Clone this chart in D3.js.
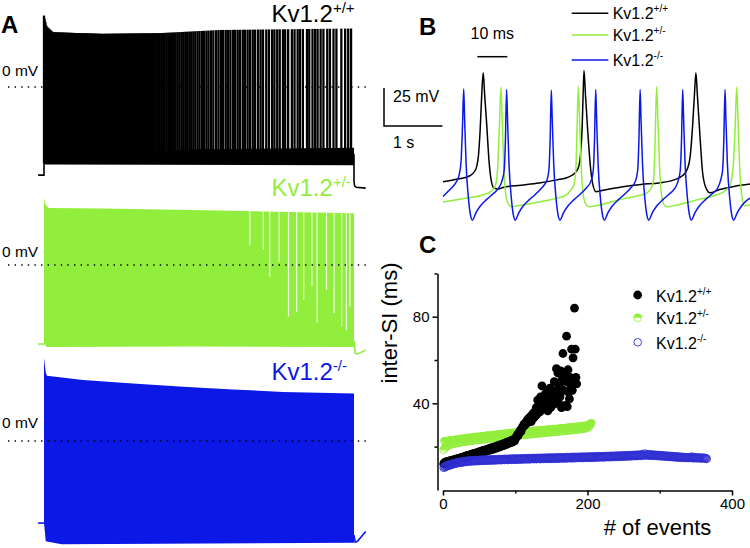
<!DOCTYPE html>
<html><head><meta charset="utf-8">
<script src="https://cdn.jsdelivr.net/npm/d3@7"></script>
<style>
body{margin:0;background:#fff;}
svg{display:block;font-family:"Liberation Sans",Arial,Helvetica,sans-serif;}
</style></head><body>
<svg id="chart" width="750" height="548"></svg>
<script>
// ---------------- DATA ----------------
const genoBase = "Kv1.2";
const genoSup = ["+/+", "+/-", "-/-"];
const stimDurationS = 5.3;

// Panel C: inter-spike intervals (ms) per event
const isiWT = [
12.0,12.6,12.2,12.9,12.5,13.1,12.7,13.3,12.9,13.5,
13.1,13.6,13.2,13.8,13.4,14.0,13.6,14.2,13.8,14.4,
14.0,14.6,14.2,14.8,14.4,15.0,14.6,15.2,14.8,15.4,
15.0,15.7,15.2,15.9,15.4,16.1,15.6,16.3,15.8,16.5,
16.0,16.7,16.2,16.9,16.4,17.1,16.6,17.3,16.8,17.5,
17.0,17.8,17.2,18.0,17.4,18.2,17.6,18.4,17.8,18.6,
18.0,18.8,18.2,19.0,18.4,19.3,18.6,19.5,18.8,19.7,
19.0,19.9,19.3,20.1,19.5,20.4,19.7,20.6,20.0,20.9,
20.2,21.1,20.5,21.4,20.7,21.6,21.0,21.9,21.2,22.2,
21.5,22.4,21.8,22.7,22.0,23.0,22.3,23.3,22.6,23.6,
24.0,24.8,25.5,25.1,26.2,26.8,27.5,27.0,28.3,28.9,
29.5,30.3,29.8,31.0,30.5,31.8,32.5,31.2,33.0,32.0,
33.8,31.5,34.5,32.8,35.5,33.5,36.0,34.2,38.0,35.0,
41.5,37.0,39.5,36.0,43.0,38.5,48.0,40.0,42.0,37.5,
44.0,39.0,41.0,45.0,36.5,43.0,40.5,47.0,38.0,44.5,
42.0,46.0,39.5,50.0,44.0,41.0,56.0,45.5,54.0,40.0,
48.0,43.0,55.0,38.0,51.0,63.0,46.0,53.0,39.0,50.0,
71.0,38.5,55.5,45.0,42.0,52.0,48.0,65.0,46.0,61.0,
50.0,84.0,65.0,52.0,49.0];

const isiHet = [
18.5,22.5,19.5,21.8,20.0,22.6,20.4,22.0,20.8,22.9,
21.0,22.4,21.2,23.0,21.3,22.6,21.5,23.2,21.6,22.8,
21.8,23.4,21.9,23.0,22.0,23.6,22.1,23.2,22.2,23.8,
22.3,23.4,22.4,24.0,22.5,23.6,22.6,24.1,22.7,23.8,
22.8,24.3,22.9,23.9,23.0,24.5,23.0,24.1,23.1,24.6,
23.2,24.3,23.3,24.8,23.3,24.4,23.4,24.9,23.5,24.6,
23.6,25.1,23.6,24.7,23.7,25.2,23.8,24.9,23.9,25.4,
23.9,25.0,24.0,25.5,24.1,25.2,24.2,25.7,24.2,25.3,
24.3,25.8,24.4,25.4,24.5,26.0,24.5,25.6,24.6,26.1,
24.7,25.7,24.8,26.3,24.8,25.9,24.9,26.4,25.0,26.0,
25.0,26.5,25.1,26.1,25.2,26.7,25.2,26.2,25.3,26.8,
25.4,26.3,25.4,26.9,25.5,26.5,25.6,27.0,25.6,26.6,
25.7,27.1,25.8,26.7,25.8,27.3,25.9,26.8,26.0,27.4,
26.0,26.9,26.1,27.5,26.2,27.0,26.2,27.6,26.3,27.2,
26.4,27.7,26.4,27.3,26.5,27.9,26.6,27.4,26.6,28.0,
26.7,27.5,26.8,28.1,26.8,27.7,26.9,28.2,27.0,27.8,
27.0,28.4,27.1,27.9,27.2,28.5,27.2,28.0,27.3,28.6,
27.4,28.2,27.4,28.8,27.5,28.3,27.6,28.9,27.6,28.4,
27.7,29.0,27.8,28.6,27.9,29.2,27.9,28.7,28.0,29.3,
28.1,28.9,28.2,29.5,28.3,29.1,28.4,29.7,28.6,29.5,
29.0,30.0,29.5,30.4,30.8];

const isiKO = [
10.2,10.8,10.5,11.1,10.9,11.4,11.0,11.6,11.3,11.8,
11.5,12.0,11.7,12.2,11.9,12.4,12.1,12.6,12.2,12.7,
12.4,12.9,12.5,13.0,12.6,13.1,12.7,13.2,12.8,13.3,
12.9,13.4,13.0,13.5,13.1,13.6,13.1,13.5,13.2,13.7,
13.2,13.8,13.3,13.6,13.2,13.9,13.4,13.7,13.3,13.9,
13.4,13.8,13.5,14.0,13.4,13.9,13.5,14.0,13.6,13.9,
13.5,14.1,13.6,13.9,13.5,14.1,13.7,14.0,13.6,14.2,
13.7,14.0,13.6,14.2,13.8,14.1,13.7,14.3,13.8,14.1,
13.7,14.3,13.9,14.2,13.8,14.4,13.9,14.2,13.8,14.4,
13.9,14.3,14.0,14.5,13.9,14.3,14.0,14.5,14.0,14.4,
13.9,14.5,14.1,14.4,14.0,14.6,14.1,14.4,14.0,14.6,
14.1,14.5,14.2,14.7,14.1,14.5,14.2,14.7,14.1,14.6,
14.2,14.7,14.3,14.6,14.2,14.8,14.3,14.6,14.2,14.8,
14.3,14.7,14.3,14.8,14.2,14.7,14.4,14.9,14.3,14.7,
14.4,14.9,14.3,14.8,14.4,15.0,14.4,14.8,14.3,14.9,
14.4,15.0,14.5,14.8,14.4,15.0,14.5,14.9,14.4,15.1,
14.5,14.9,14.6,15.1,14.5,15.0,14.6,15.1,14.5,15.0,
14.6,15.2,14.6,15.0,14.7,15.2,14.6,15.1,14.7,15.3,
14.6,15.1,14.7,15.3,14.7,15.1,14.8,15.3,14.7,15.2,
14.8,15.4,14.7,15.2,14.8,15.4,14.9,15.2,14.8,15.4,
14.9,15.3,14.9,15.5,14.8,15.3,15.0,15.5,14.9,15.3,
15.0,15.6,14.9,15.4,15.0,15.6,15.1,15.4,15.0,15.6,
15.1,15.5,15.0,15.7,15.1,15.5,15.2,15.7,15.1,15.5,
15.2,15.8,15.1,15.6,15.3,15.8,15.2,15.6,15.3,15.9,
15.2,15.7,15.4,15.9,15.3,15.7,15.4,16.0,15.3,15.8,
15.5,16.0,15.4,15.8,15.5,16.1,15.5,15.9,15.6,16.1,
15.5,16.0,15.7,16.2,15.6,16.0,15.7,16.3,15.6,16.1,
15.8,16.3,15.7,16.1,15.9,16.6,15.8,16.2,16.0,16.8,
15.9,16.3,16.0,16.5,15.8,16.2,16.0,16.4,15.7,16.2,
15.9,16.3,15.7,16.1,15.8,16.2,15.6,16.0,15.7,16.1,
15.5,16.0,15.6,15.9,15.4,15.9,15.5,15.8,15.3,15.8,
15.4,15.7,15.2,15.7,15.3,15.6,15.1,15.6,15.2,15.5,
15.0,15.5,15.1,15.4,14.9,15.4,15.0,15.3,14.8,15.3,
14.9,15.2,14.8,15.2,14.9,15.1,14.7,15.1,14.8,15.0,
14.7,15.1,14.8,15.4,14.7,15.0,14.6,15.2,14.7,14.9,
14.6,15.0,14.7,14.9,14.5,15.0,14.6,14.8,14.5,14.9,
14.6,14.8,14.5,14.7,14.3];

const cXTicks = [0, 200, 400];
const cXMinorTicks = [100, 300];
const cYTicks = [40, 80];
const cYMinorTicks = [20, 60, 100];

// Panel A envelopes: [time s, mV]
const wtPeakEnv = [[0,47],[0.04,40],[0.15,36],[1,35],[2,35.5],[3,37.5],[5.3,38.5]];
const wtBandTop = [[0,-44],[1.5,-44],[2.5,-41],[5.3,-40]];
const wtBandBottom = [[0,-51],[5.3,-51.5]];
const wtPre = [[-0.1,-58],[0,-58],[0,-50]];
const wtPost = [[5.3,-44],[5.3,-62],[5.31,-65],[5.34,-66],[5.5,-66.5]];

const hetTop = [[0,44.7],[0.02,40],[0.08,37.5],[1,37.2],[2,36.5],[3,35.8],[4,35],[5.3,34]];
const hetBottom = [[0,-52],[0.05,-54],[2.5,-53.7],[5.3,-54]];
const hetPre = [[-0.1,-52],[0,-52]];
const hetPost = [[5.3,-50],[5.32,-58],[5.36,-58.5],[5.5,-56]];
const hetFailures = [[3.52,13],[3.75,10],[3.86,-7.7],[4.02,2],[4.18,-34],[4.32,-31],[4.44,-23],[4.58,-14],[4.67,-38],[4.83,-16.4],[4.96,-31.6],[5.09,-40.5],[5.17,-42.8],[5.23,-27.4]];

const koTop = [[0,54.6],[0.03,45],[0.05,43],[0.67,40.1],[1.52,37.9],[2.38,35.7],[3.23,33.9],[4.09,32.3],[5.3,31.2]];
const koBottom = [[0,-54],[0.03,-66],[0.3,-68],[5.3,-67]];
const koPre = [[-0.1,-54],[0,-54]];
const koPost = [[5.3,-62],[5.32,-66.5],[5.36,-66],[5.5,-59.5]];

// Panel B traces: [time ms, mV]
const bTraceWT = [[0,-46.8],[5,-45],[9,-42.8],[10.5,-40],[11.2,-37],[11.8,-30],[12.4,-12],[12.9,10],[13.4,25],[13.9,10],[14.6,-10],[15.3,-32],[16.0,-45],[17.0,-51],[18.5,-51.5],[20,-50.5],[26,-49],[32,-47.5],[38,-45.5],[42,-43.5],[44,-41],[45.2,-37],[45.8,-30],[46.4,-10],[46.7,10],[47.0,26.5],[47.5,10],[48.3,-15],[49.2,-38],[50.0,-49],[51.0,-53.3],[53,-52.5],[60,-50],[66,-48.5],[72,-47.5],[77,-45.5],[80,-42.5],[81.5,-38],[82.4,-30],[83.2,-10],[83.8,10],[84.3,25],[84.8,10],[85.6,-15],[86.5,-40],[87.5,-50],[89,-54],[92,-52],[97,-49.8],[102.5,-48.2]];

const bTraceHet = [[0,-60],[8,-57.5],[14,-55],[16.3,-52.5],[17.5,-49],[18.2,-38],[18.8,-10],[19.3,15.4],[19.8,-10],[20.3,-38],[21.0,-56],[22.0,-62],[23.0,-63.2],[25,-62.5],[32,-60],[38,-57.5],[41,-55.5],[42.5,-52.5],[43.6,-49],[44.3,-38],[44.7,-10],[45.1,15.8],[45.6,-10],[46.1,-38],[46.8,-56],[47.8,-62],[48.8,-63.2],[51,-62.5],[60,-58],[65,-56],[68,-54],[69.4,-51],[70.2,-45],[70.7,-20],[71.2,15.8],[71.7,-10],[72.2,-38],[72.9,-56],[73.9,-62.5],[75,-63.2],[78,-62],[85,-58.5],[91,-55.5],[94.2,-52.5],[95.8,-48.5],[96.8,-35],[97.4,-10],[97.9,15.4],[98.4,-10],[98.9,-38],[99.6,-56],[100.5,-62.5],[102.5,-62]];

const bTraceKO = [[0,-56.5],[1.5,-53.5],[3,-50.5],[4.4,-47],[5.4,-42],[6.0,-34],[6.5,-10],[6.9,14.2],[7.2,-5],[7.7,-35],[8.5,-58],[9.2,-69],[9.8,-72],
[11,-67],[12.5,-62.5],[14.5,-58.5],[16.5,-55],[18.5,-51],[19.7,-46],[20.4,-39],[20.8,-20],[21.2,14],[21.5,-5],[22,-35],[22.8,-58],[23.5,-69],[24.1,-72],
[25.3,-67],[26.8,-62.5],[28.8,-58.5],[30.8,-55],[32.8,-51],[34.6,-46],[35.3,-39],[35.7,-20],[36.1,13.5],[36.4,-5],[36.9,-35],[37.7,-58],[38.4,-69],[39,-72],
[40.2,-67],[41.7,-62.5],[43.7,-58.5],[45.7,-55],[47.7,-51],[49.4,-46],[50.1,-39],[50.5,-20],[50.9,14],[51.2,-5],[51.7,-35],[52.5,-58],[53.2,-69],[53.8,-72],
[55,-67],[56.5,-62.5],[58.5,-58.5],[60.5,-55],[62.5,-51],[64.2,-46],[64.9,-39],[65.3,-20],[65.7,14],[66,-5],[66.5,-35],[67.3,-58],[68,-69],[68.6,-72],
[69.8,-67],[71.3,-62.5],[73.3,-58.5],[75.3,-55],[77.3,-51],[78.4,-46],[79.1,-39],[79.5,-20],[79.9,14],[80.2,-5],[80.7,-35],[81.5,-58],[82.2,-69],[82.8,-72],
[84,-67],[85.5,-62.5],[87.5,-58.5],[89.5,-55],[91.5,-51],[92.5,-46],[93.2,-39],[93.6,-20],[94,14],[94.3,-5],[94.8,-35],[95.6,-58],[96.3,-69],[96.9,-72],
[98.1,-67],[99.6,-62.5],[101.6,-58.5],[102.5,-57.5]];

// ---------------- STYLE ----------------
const COL = ["#000000", "#92ee3c", "#0c18e6"];
const COL_C = ["#000000", "#92ee3c", "#2f2fd2"];

const svg = d3.select("#chart");

function label(g, x, y, base, sup, size, supSize, rise, color, anchor) {
  const t = g.append("text").attr("x", x).attr("y", y).attr("font-size", size)
    .attr("fill", color).attr("text-anchor", anchor || "start");
  t.append("tspan").text(base);
  t.append("tspan").attr("font-size", supSize).attr("dy", -rise).text(sup);
  return t;
}
const envScale = pts => d3.scaleLinear().domain(pts.map(p => p[0])).range(pts.map(p => p[1])).clamp(true);

// ---------------- PANEL A ----------------
const xA = d3.scaleLinear().domain([0, stimDurationS]).range([44, 354]);
const zeroYs = [87, 265, 441];
const yAs = zeroYs.map(z => d3.scaleLinear().domain([0, 25]).range([z, z - 38]));
const gA = svg.append("g");

function poly(top, bottom, ys) {
  const pts = top.concat(bottom.slice().reverse());
  return d3.line().x(d => xA(d[0])).y(d => ys(d[1]))(pts) + "Z";
}
function traceLine(pts, ys) {
  return d3.line().x(d => xA(d[0])).y(d => ys(d[1]))(pts);
}

// WT (black): spikes placed from cumulative ISIs
{
  const ys = yAs[0];
  const peak = envScale(wtPeakEnv);
  const times = [0];
  let t = 0;
  isiWT.forEach(v => { t += v / 1000; times.push(t); });
  gA.append("path").attr("d", traceLine(wtPre, ys)).attr("fill", "none").attr("stroke", COL[0]).attr("stroke-width", 1.6);
  gA.append("path").attr("d", poly(wtBandTop, wtBandBottom, ys)).attr("fill", COL[0]);
  gA.selectAll("line.wtspk").data(times.filter(d => d <= stimDurationS)).join("line")
    .attr("x1", d => xA(d)).attr("x2", d => xA(d))
    .attr("y1", ys(-50)).attr("y2", d => ys(peak(d)))
    .attr("stroke", COL[0]).attr("stroke-width", 2.3);
  gA.append("path").attr("d", traceLine(wtPost, ys)).attr("fill", "none").attr("stroke", COL[0]).attr("stroke-width", 1.6);
}
// Het (green)
{
  const ys = yAs[1];
  const top = envScale(hetTop);
  gA.append("path").attr("d", traceLine(hetPre, ys)).attr("fill", "none").attr("stroke", COL[1]).attr("stroke-width", 1.6);
  gA.append("path").attr("d", poly(hetTop, hetBottom, ys)).attr("fill", COL[1]);
  gA.selectAll("line.fail").data(hetFailures).join("line")
    .attr("x1", d => xA(d[0])).attr("x2", d => xA(d[0]))
    .attr("y1", d => ys(top(d[0]) + 1)).attr("y2", d => ys(d[1]))
    .attr("stroke", "#eefbe2").attr("stroke-width", 1.2);
  gA.append("path").attr("d", traceLine(hetPost, ys)).attr("fill", "none").attr("stroke", COL[1]).attr("stroke-width", 1.6);
}
// KO (blue)
{
  const ys = yAs[2];
  gA.append("path").attr("d", traceLine(koPre, ys)).attr("fill", "none").attr("stroke", COL[2]).attr("stroke-width", 1.6);
  gA.append("path").attr("d", poly(koTop, koBottom, ys)).attr("fill", COL[2]);
  gA.append("path").attr("d", traceLine(koPost, ys)).attr("fill", "none").attr("stroke", COL[2]).attr("stroke-width", 1.6);
}
// 0 mV dotted lines + labels
zeroYs.forEach(z => {
  gA.append("line").attr("x1", 8).attr("x2", 366).attr("y1", z).attr("y2", z)
    .attr("stroke", "#000").attr("stroke-width", 1.3).attr("stroke-dasharray", "1.4,5.2");
});
[76, 256.5, 428.3].forEach(y => {
  gA.append("text").attr("x", 2).attr("y", y).attr("font-size", 15.5).attr("fill", "#000").text("0 mV");
});
label(gA, 271.5, 21.7, genoBase, genoSup[0], 24, 15, 9, COL[0]);
label(gA, 271.5, 196, genoBase, genoSup[1], 24, 15, 9, COL[1]);
label(gA, 271.5, 380, genoBase, genoSup[2], 24, 15, 9, COL[2]);
svg.append("text").attr("x", 1).attr("y", 33.3).attr("font-size", 24).attr("font-weight", "bold").text("A");

// ---------------- PANEL B ----------------
const xB = d3.scaleLinear().domain([0, 10]).range([443, 473]);
const yB = d3.scaleLinear().domain([0, 25]).range([110.7, 72.7]);
const gB = svg.append("g");
const lineB = d3.line().x(d => xB(d[0])).y(d => yB(d[1])).curve(d3.curveMonotoneX);
[bTraceWT, bTraceHet, bTraceKO].forEach((tr, i) => {
  gB.append("path").attr("d", lineB(tr)).attr("fill", "none").attr("stroke", COL[i]).attr("stroke-width", 1.5);
});
svg.append("text").attr("x", 419).attr("y", 35).attr("font-size", 24).attr("font-weight", "bold").text("B");
const msBar = xB(10) - xB(0);
gB.append("line").attr("x1", 477.3).attr("x2", 477.3 + msBar).attr("y1", 56.7).attr("y2", 56.7).attr("stroke", "#000").attr("stroke-width", 1.5);
gB.append("text").attr("x", 477.3 + msBar / 2).attr("y", 38.5).attr("text-anchor", "middle").attr("font-size", 16).text("10 ms");
const mvBar = yAs[0](0) - yAs[0](25);
const sBar = xA(1) - xA(0);
gB.append("path").attr("d", `M384,${126 - mvBar}V126H${384 + sBar}`).attr("fill", "none").attr("stroke", "#000").attr("stroke-width", 1.5);
gB.append("text").attr("x", 393).attr("y", 102).attr("font-size", 16).text("25 mV");
gB.append("text").attr("x", 393).attr("y", 148).attr("font-size", 16).text("1 s");
[13.3, 35, 60].forEach((y, i) => {
  gB.append("line").attr("x1", 571.7).attr("x2", 608.3).attr("y1", y).attr("y2", y).attr("stroke", COL[i]).attr("stroke-width", 1.5);
  label(gB, 612.7, y + 5.5, genoBase, genoSup[i], 16, 10, 7, "#000");
});

// ---------------- PANEL C ----------------
const xC = d3.scaleLinear().domain([0, 400]).range([443, 732]);
const yC = d3.scaleLinear().domain([0, 100]).range([489.9, 273.4]);
const gC = svg.append("g");
svg.append("text").attr("x", 419).attr("y", 253).attr("font-size", 24).attr("font-weight", "bold").text("C");

gC.append("g").attr("transform", "translate(437.5,0)")
  .call(d3.axisLeft(yC).tickValues(cYTicks).tickSize(5).tickSizeOuter(0).tickPadding(3));
gC.append("g").attr("transform", "translate(437.5,0)")
  .call(d3.axisLeft(yC).tickValues(cYMinorTicks).tickSize(3).tickSizeOuter(0).tickFormat(""))
  .call(g => g.select(".domain").remove());
gC.append("g").attr("transform", "translate(0,490.5)")
  .call(d3.axisBottom(xC).tickValues(cXTicks).tickSize(5).tickSizeOuter(0).tickPadding(3));
gC.append("g").attr("transform", "translate(0,490.5)")
  .call(d3.axisBottom(xC).tickValues(cXMinorTicks).tickSize(3).tickSizeOuter(0).tickFormat(""))
  .call(g => g.select(".domain").remove());
gC.selectAll(".domain, .tick line").attr("stroke", "#000").attr("stroke-width", 1.5);
gC.selectAll(".tick text").attr("font-size", 15).attr("font-family", "Liberation Sans, Arial, sans-serif").attr("fill", "#000");

gC.append("text").attr("transform", "translate(397,323) rotate(-90)").attr("text-anchor", "middle")
  .attr("font-size", 22).text("inter-SI (ms)");
gC.append("text").attr("x", 657.5).attr("y", 535).attr("text-anchor", "middle").attr("font-size", 22).text("# of events");

const R = 4.2;
const halfTop = `M${-R},0A${R},${R} 0 0 1 ${R},0Z`;
function drawMarker(g, kind, x, y) {
  if (kind === 0) {
    g.append("circle").attr("cx", x).attr("cy", y).attr("r", R + 0.2).attr("fill", COL_C[0]);
  } else if (kind === 1) {
    const m = g.append("g").attr("transform", `translate(${x},${y})`);
    m.append("path").attr("d", halfTop).attr("fill", COL_C[1]);
    m.append("circle").attr("r", R - 0.4).attr("fill", "none").attr("stroke", COL_C[1]).attr("stroke-width", 0.9);
  } else {
    g.append("circle").attr("cx", x).attr("cy", y).attr("r", R - 0.4).attr("fill", "none")
      .attr("stroke", COL_C[2]).attr("stroke-width", 0.9);
  }
}
const gPts = gC.append("g");
const order = [1, 0, 2];
const series = [isiWT, isiHet, isiKO];
order.forEach(k => {
  series[k].forEach((v, i) => drawMarker(gPts, k, xC(i + 1), yC(v)));
});
[295, 317.7, 342.3].forEach((y, i) => {
  drawMarker(gC, i, 637.7, y);
  label(gC, 656, y + 6.5, genoBase, genoSup[i], 16, 10, 7, "#000");
});
</script>
</body></html>
